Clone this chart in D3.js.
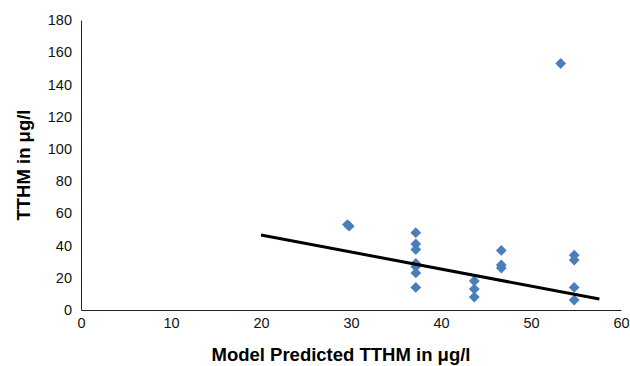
<!DOCTYPE html>
<html>
<head>
<meta charset="utf-8">
<script src="https://cdn.jsdelivr.net/npm/d3@7"></script>
<style>
  body { margin: 0; background: #fff; }
  svg text { font-family: "Liberation Sans", Arial, sans-serif; }
</style>
</head>
<body>
<svg id="chart" width="630" height="366"></svg>
<script>
// predicted vs measured TTHM
const predicted = [29.6, 29.8, 37.2, 37.2, 37.2, 37.2, 37.2, 37.2, 37.2, 43.7, 43.7, 43.7, 46.7, 46.7, 46.7, 54.8, 54.8, 54.8, 54.8, 53.3];
const measured  = [53,   52,   48,   41,   37.5, 29,   27,   23,   14,   18,   13,   8,    37,   28,   26,   34,   31,   14,   6.2,  153];
const trendX = [20, 57.6];
const trendY = [46.6, 6.8];
const xTicks = [0, 10, 20, 30, 40, 50, 60];
const yTicks = [0, 20, 40, 60, 80, 100, 120, 140, 160, 180];

const svg = d3.select('#chart');
const x = d3.scaleLinear().domain([0, 60]).range([81, 621]);
const y = d3.scaleLinear().domain([0, 180]).range([310, 20]);

// axes, no tick marks
const xAxis = svg.append('g').attr('transform', 'translate(0,310)')
    .call(d3.axisBottom(x).tickValues(xTicks).tickSize(0).tickPadding(8));
const yAxis = svg.append('g').attr('transform', 'translate(81,0)')
    .call(d3.axisLeft(y).tickValues(yTicks).tickSize(0).tickPadding(9));
[xAxis, yAxis].forEach(a => {
    a.select('.domain').attr('stroke', '#222').attr('stroke-width', 1);
    a.selectAll('text').attr('font-size', 14.5).attr('fill', '#111')
        .attr('font-family', '"Liberation Sans", Arial, sans-serif');
});

// points
svg.append('g').selectAll('path').data(predicted).enter().append('path')
    .attr('d', d3.symbol().type(d3.symbolSquare).size(58))
    .attr('transform', (d, i) => 'translate(' + x(d) + ',' + y(measured[i]) + ') rotate(45)')
    .attr('fill', '#4a7ebb');

// trend line
svg.append('path')
    .datum(trendX.map((d, i) => [d, trendY[i]]))
    .attr('d', d3.line().x(d => x(d[0])).y(d => y(d[1])))
    .attr('stroke', '#000').attr('stroke-width', 3).attr('fill', 'none');

// titles
svg.append('text')
    .attr('x', 341).attr('y', 361)
    .attr('text-anchor', 'middle')
    .attr('font-size', 18.5).attr('font-weight', 'bold')
    .text('Model Predicted TTHM in μg/l');

svg.append('text')
    .attr('transform', 'translate(30,165) rotate(-90)')
    .attr('text-anchor', 'middle')
    .attr('font-size', 18.5).attr('font-weight', 'bold')
    .text('TTHM in μg/l');
</script>
</body>
</html>
